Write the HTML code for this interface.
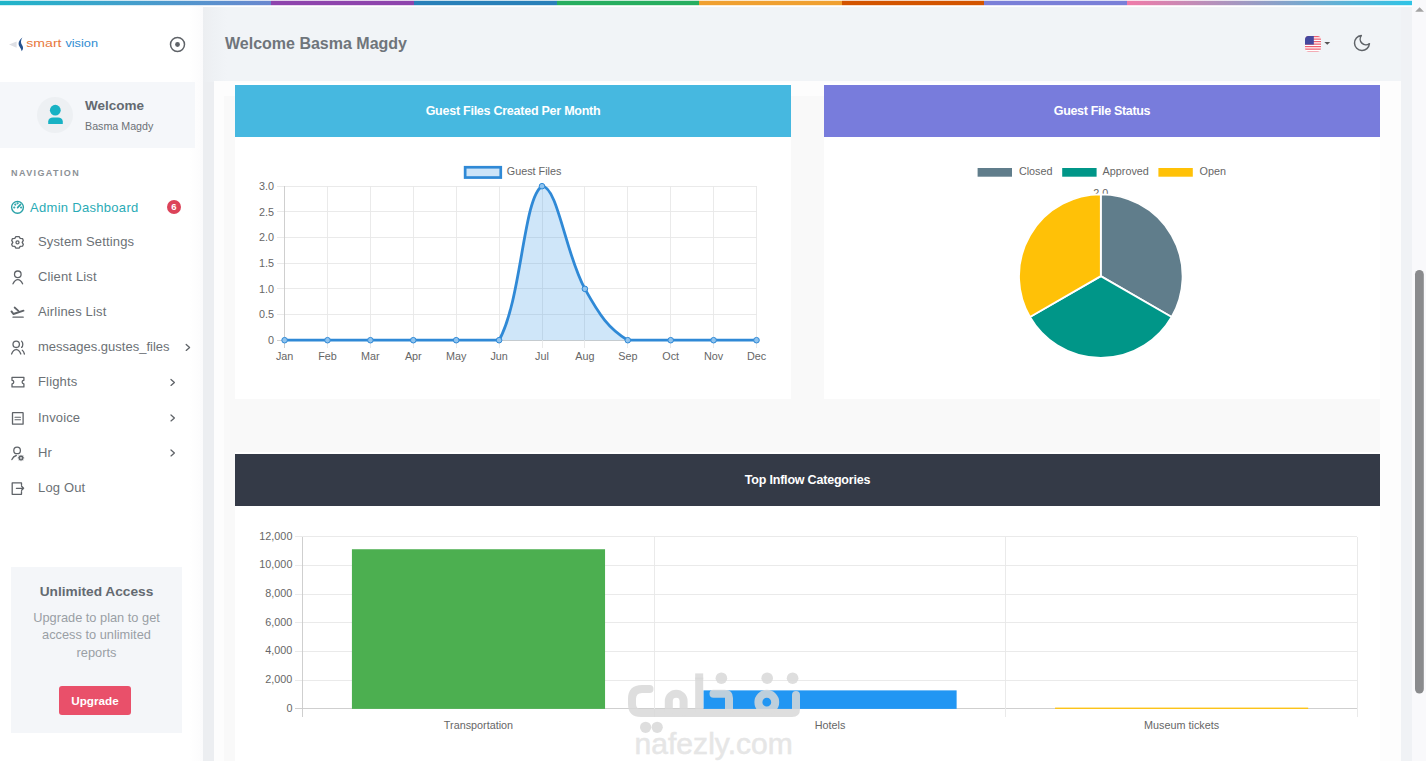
<!DOCTYPE html>
<html><head><meta charset="utf-8">
<style>
*{margin:0;padding:0;box-sizing:border-box}
html,body{width:1426px;height:761px;overflow:hidden;background:#fff;font-family:"Liberation Sans",sans-serif}
.a{position:absolute}
.tb{left:0;width:1412px;background:linear-gradient(90deg,#1fb5c9 0px,#6a87cf 271px,#8e44ad 271px,#8e44ad 414px,#2980b9 414px,#2980b9 557px,#27ae60 557px,#27ae60 699px,#f0a030 699px,#f0a030 842px,#d35400 842px,#d35400 984px,#7a7fd8 984px,#7a7fd8 1127px,#f07aa8 1127px,#2ec4e6 1412px)}
#topbar{top:1px;height:4px}
#tb0{top:0;height:1px;opacity:.25}
#tb5{top:5px;height:1px;opacity:.2}
#mainbg{left:203px;top:7px;width:1209px;height:754px;background:#eceef1}
#sidebar{left:0;top:6px;width:203px;height:755px;background:linear-gradient(90deg,#fff 190px,#fbfbfc 203px)}
#header{left:203px;top:7px;width:1209px;height:75px;background:linear-gradient(90deg,#eceef1 0px,#eef1f4 10px,#f1f4f7 24px)}
#scroll{left:1412px;top:0;width:14px;height:761px;background:#f9f9fb}
#container{left:214px;top:81px;width:1187px;height:680px;background:#fdfdfd}
#inner{left:224px;top:96px;width:1156px;height:665px;background:#f9f9f9}
#rstrip{left:1401px;top:7px;width:11px;height:754px;background:#f0f2f5}
.card{background:#fff}
.chead{color:#fff;font-weight:bold;font-size:12.5px;text-align:center;line-height:52px;height:52px}
.nav{font-size:13px;color:#6c7176;white-space:nowrap;letter-spacing:0.15px}
</style></head><body>
<div id="mainbg" class="a"></div>
<div id="topbar" class="a tb"></div><div id="tb0" class="a tb"></div><div id="tb5" class="a tb"></div>
<div id="sidebar" class="a"></div>
<div id="header" class="a"></div>
<div id="scroll" class="a"></div>
<div id="container" class="a"></div>
<div id="inner" class="a"></div>
<div id="rstrip" class="a"></div>

<!-- sidebar content -->
<svg class="a" style="left:0;top:30px" width="110" height="26" viewBox="0 30 110 26">
 <path d="M16.6 41.4 L9 44.6 L16.6 47.8 Z" fill="#dedfe4"/>
 <path d="M22.4 37.6 C19.1 40.3 17.5 43.4 19.5 46.5 C20.5 48 21.4 49.5 21.7 51.3 C23.7 49 23.3 46.8 21.9 44.8 C20.6 43 20.6 40.4 22.4 37.6 Z" fill="#24528f"/>
 <text x="26.3" y="47.4" font-family="Liberation Sans" font-size="11.6" textLength="35.2" lengthAdjust="spacingAndGlyphs" fill="#e8773c">smart</text>
 <text x="65.4" y="47.4" font-family="Liberation Sans" font-size="11.6" textLength="32.6" lengthAdjust="spacingAndGlyphs" fill="#2e8cd2">vision</text>
</svg>
<svg class="a" style="left:169px;top:36px" width="17" height="17" viewBox="0 0 17 17"><circle cx="8.5" cy="8.5" r="7" fill="none" stroke="#5f6368" stroke-width="1.5"/><circle cx="8.5" cy="8.5" r="2.4" fill="#5f6368"/></svg>

<div class="a" style="left:0;top:82px;width:195px;height:66px;background:#f5f7fa"></div>
<div class="a" style="left:37px;top:97px;width:36px;height:36px;border-radius:50%;background:#edf0f3"></div>
<svg class="a" style="left:40px;top:100px" width="30" height="30" viewBox="40 100 30 30"><circle cx="55.3" cy="110.2" r="5.4" fill="#18b2c4"/><path d="M48.2 124 L48.2 121.5 C48.2 119 50.5 117.6 53 117.6 L58 117.6 C60.5 117.6 62.8 119 62.8 121.5 L62.8 124 Z" fill="#18b2c4"/></svg>
<div class="a" id="t_welcome" style="left:85px;top:98px;font-size:13.5px;font-weight:bold;color:#646a71;white-space:nowrap">Welcome</div>
<div class="a" id="t_basma" style="left:85px;top:120px;font-size:10.7px;color:#6c7176;white-space:nowrap">Basma Magdy</div>

<div class="a" id="t_navlbl" style="left:11px;top:168px;font-size:9px;font-weight:bold;color:#8c9196;letter-spacing:1.4px;white-space:nowrap">NAVIGATION</div>

<div class="a nav" id="t_admin" style="left:30px;top:200px;color:#2aabb6;letter-spacing:0.3px">Admin Dashboard</div>
<div class="a" style="left:167px;top:200px;width:14px;height:14px;border-radius:50%;background:#dc4359;color:#fff;font-size:9.5px;font-weight:bold;text-align:center;line-height:14px">6</div>
<div class="a nav" id="t_sys" style="left:38px;top:234px">System Settings</div>
<div class="a nav" id="t_client" style="left:38px;top:269px">Client List</div>
<div class="a nav" id="t_air" style="left:38px;top:304px">Airlines List</div>
<div class="a nav" id="t_msg" style="left:38px;top:339px;letter-spacing:0">messages.gustes_files</div>
<div class="a nav" id="t_fl" style="left:38px;top:374px">Flights</div>
<div class="a nav" id="t_inv" style="left:38px;top:410px">Invoice</div>
<div class="a nav" id="t_hr" style="left:38px;top:445px">Hr</div>
<div class="a nav" id="t_log" style="left:38px;top:480px">Log Out</div>

<div class="a" style="left:11px;top:567px;width:171px;height:166px;background:#f4f6f9"></div>
<div class="a" id="t_unl" style="left:11px;top:584px;width:171px;text-align:center;font-size:13.7px;font-weight:bold;color:#646a71">Unlimited Access</div>
<div class="a" id="t_upg" style="left:11px;top:608.5px;width:171px;text-align:center;font-size:12.8px;line-height:17.8px;color:#9a9fa5">Upgrade to plan to get<br>access to unlimited<br>reports</div>
<div class="a" style="left:59px;top:686px;width:72px;height:29px;border-radius:3px;background:#e9506a;color:#fff;font-size:11.7px;font-weight:bold;text-align:center;line-height:29px">Upgrade</div>

<!--ICONS_START-->
<svg class="a" style="left:0;top:0" width="203" height="761" viewBox="0 0 203 761" fill="none" stroke="#5f6368" stroke-width="1.3" stroke-linecap="round" stroke-linejoin="round">
 <g stroke="#2aa2a8">
  <circle cx="17.5" cy="207.3" r="5.9" stroke-width="1.35"/>
  <path d="M17.6 207.6 L20.6 204.4" stroke-width="1.6"/>
  <circle cx="14.3" cy="207.5" r="0.45" fill="#2aa2a8"/><circle cx="15.3" cy="204.6" r="0.45" fill="#2aa2a8"/><circle cx="17.6" cy="203.3" r="0.45" fill="#2aa2a8"/><circle cx="21.1" cy="207.5" r="0.45" fill="#2aa2a8"/>
 </g>
 <path d="M15.9 236.6 L19.1 236.6 L20.2 238.4 L22.5 238.6 L23.3 240.4 L22.2 242.4 L23.3 244.4 L22.5 246.2 L20.2 246.4 L19.1 248.2 L15.9 248.2 L14.8 246.4 L12.5 246.2 L11.7 244.4 L12.8 242.4 L11.7 240.4 L12.5 238.6 L14.8 238.4 Z"/>
 <circle cx="17.5" cy="242.4" r="1.5"/>
 <circle cx="17.8" cy="274.3" r="3.3"/>
 <path d="M13 283.8 C14.5 280.5 16 279.6 17.8 279.6 C19.6 279.6 21.1 280.5 22.6 283.8"/>
 <path d="M11.5 311.4 L13.4 314 L23.5 310.7" stroke-width="1.9"/><path d="M14.6 307.5 L18.4 310.9" stroke-width="1.7"/>
 <path d="M13 317.2 L23.2 317.2"/>
 <circle cx="16.2" cy="344.3" r="3.2"/>
 <path d="M11.6 354 C12.8 350.8 14.4 349.7 16.2 349.7 C18 349.7 19.6 350.8 20.8 354"/>
 <path d="M21.6 341.2 C23.2 342.2 23.2 346.4 21.6 347.4"/>
 <path d="M22.3 350.2 C23.4 351 24 352.2 24.4 354"/>
 <path d="M12 377.3 L23.9 377.3 L23.9 380.3 A1.8 1.8 0 0 0 23.9 383.9 L23.9 386.9 L12 386.9 L12 383.9 A1.8 1.8 0 0 0 12 380.3 Z"/>
 <rect x="12.5" y="412.6" width="10.6" height="11.6" rx="0.3"/>
 <path d="M15 417.2 L20.5 417.2 M15 419.8 L20.5 419.8" stroke-width="1.1"/>
 <circle cx="17.1" cy="450.4" r="3.3"/>
 <path d="M11.9 459.6 C12.8 457.4 14.3 456 16.3 455.5"/>
 <circle cx="21" cy="457.9" r="1.5" stroke-width="1.3"/>
 <path d="M21 455.2 L21 455.9 M21 459.9 L21 460.6 M18.3 457.9 L19 457.9 M23 457.9 L23.7 457.9 M19.1 456 L19.6 456.5 M22.4 459.3 L22.9 459.8 M19.1 459.8 L19.6 459.3 M22.4 456.5 L22.9 456" stroke-width="1.1"/>
 <path d="M21.5 485.3 L21.5 482.9 L12.2 482.9 L12.2 494.3 L21.5 494.3 L21.5 491.6"/>
 <path d="M16.4 488.3 L23.6 488.3 M21.6 486.3 L23.6 488.3 L21.6 490.3"/>
 <path d="M186.2 344.4 L189.6 347.4 L186.2 350.4"/>
 <path d="M171 379.4 L174.4 382.4 L171 385.4"/>
 <path d="M171 414.9 L174.4 417.9 L171 420.9"/>
 <path d="M171 449.9 L174.4 452.9 L171 455.9"/>
</svg>
<!--ICONS_END-->
<!-- header -->
<div class="a" id="t_head" style="left:225px;top:35px;font-size:16px;font-weight:bold;color:#6f757b;white-space:nowrap">Welcome Basma Magdy</div>

<!-- cards -->
<div class="a card" style="left:235px;top:83px;width:556px;height:316px"></div>
<div class="a card" style="left:824px;top:83px;width:556px;height:316px"></div>
<div class="a card" style="left:235px;top:452px;width:1145px;height:309px"></div>
<div class="a chead" id="h1" style="left:235px;top:85px;width:556px;letter-spacing:-0.25px;background:#46b8e0">Guest Files Created Per Month</div>
<div class="a chead" id="h2" style="left:824px;top:85px;width:556px;letter-spacing:-0.34px;background:#787cdc">Guest File Status</div>
<div class="a chead" id="h3" style="left:235px;top:454px;width:1145px;letter-spacing:-0.2px;background:#343a47">Top Inflow Categories</div>

<!--CHARTS_START-->
<svg class="a" id="charts" style="left:0;top:0" width="1426" height="761" viewBox="0 0 1426 761">
<g shape-rendering="crispEdges">
<line x1="276.6" y1="186.20" x2="756.5" y2="186.20" stroke="#e8e8e8" stroke-width="0.9"/>
<line x1="276.6" y1="211.87" x2="756.5" y2="211.87" stroke="#e8e8e8" stroke-width="0.9"/>
<line x1="276.6" y1="237.53" x2="756.5" y2="237.53" stroke="#e8e8e8" stroke-width="0.9"/>
<line x1="276.6" y1="263.20" x2="756.5" y2="263.20" stroke="#e8e8e8" stroke-width="0.9"/>
<line x1="276.6" y1="288.87" x2="756.5" y2="288.87" stroke="#e8e8e8" stroke-width="0.9"/>
<line x1="276.6" y1="314.53" x2="756.5" y2="314.53" stroke="#e8e8e8" stroke-width="0.9"/>
<line x1="276.6" y1="340.20" x2="756.5" y2="340.20" stroke="#cacaca" stroke-width="0.9"/>
<line x1="284.60" y1="186.2" x2="284.60" y2="348" stroke="#cacaca" stroke-width="0.9"/>
<line x1="327.50" y1="186.2" x2="327.50" y2="348" stroke="#e8e8e8" stroke-width="0.9"/>
<line x1="370.40" y1="186.2" x2="370.40" y2="348" stroke="#e8e8e8" stroke-width="0.9"/>
<line x1="413.30" y1="186.2" x2="413.30" y2="348" stroke="#e8e8e8" stroke-width="0.9"/>
<line x1="456.20" y1="186.2" x2="456.20" y2="348" stroke="#e8e8e8" stroke-width="0.9"/>
<line x1="499.10" y1="186.2" x2="499.10" y2="348" stroke="#e8e8e8" stroke-width="0.9"/>
<line x1="542.00" y1="186.2" x2="542.00" y2="348" stroke="#e8e8e8" stroke-width="0.9"/>
<line x1="584.90" y1="186.2" x2="584.90" y2="348" stroke="#e8e8e8" stroke-width="0.9"/>
<line x1="627.80" y1="186.2" x2="627.80" y2="348" stroke="#e8e8e8" stroke-width="0.9"/>
<line x1="670.70" y1="186.2" x2="670.70" y2="348" stroke="#e8e8e8" stroke-width="0.9"/>
<line x1="713.60" y1="186.2" x2="713.60" y2="348" stroke="#e8e8e8" stroke-width="0.9"/>
<line x1="756.50" y1="186.2" x2="756.50" y2="348" stroke="#e8e8e8" stroke-width="0.9"/>
</g>
<text x="274" y="190.00" text-anchor="end" font-family="Liberation Sans" fill="#666" font-size="10.8">3.0</text>
<text x="274" y="215.67" text-anchor="end" font-family="Liberation Sans" fill="#666" font-size="10.8">2.5</text>
<text x="274" y="241.33" text-anchor="end" font-family="Liberation Sans" fill="#666" font-size="10.8">2.0</text>
<text x="274" y="267.00" text-anchor="end" font-family="Liberation Sans" fill="#666" font-size="10.8">1.5</text>
<text x="274" y="292.67" text-anchor="end" font-family="Liberation Sans" fill="#666" font-size="10.8">1.0</text>
<text x="274" y="318.33" text-anchor="end" font-family="Liberation Sans" fill="#666" font-size="10.8">0.5</text>
<text x="274" y="344.00" text-anchor="end" font-family="Liberation Sans" fill="#666" font-size="10.8">0</text>
<text x="284.60" y="359.8" text-anchor="middle" font-family="Liberation Sans" fill="#666" font-size="10.8">Jan</text>
<text x="327.50" y="359.8" text-anchor="middle" font-family="Liberation Sans" fill="#666" font-size="10.8">Feb</text>
<text x="370.40" y="359.8" text-anchor="middle" font-family="Liberation Sans" fill="#666" font-size="10.8">Mar</text>
<text x="413.30" y="359.8" text-anchor="middle" font-family="Liberation Sans" fill="#666" font-size="10.8">Apr</text>
<text x="456.20" y="359.8" text-anchor="middle" font-family="Liberation Sans" fill="#666" font-size="10.8">May</text>
<text x="499.10" y="359.8" text-anchor="middle" font-family="Liberation Sans" fill="#666" font-size="10.8">Jun</text>
<text x="542.00" y="359.8" text-anchor="middle" font-family="Liberation Sans" fill="#666" font-size="10.8">Jul</text>
<text x="584.90" y="359.8" text-anchor="middle" font-family="Liberation Sans" fill="#666" font-size="10.8">Aug</text>
<text x="627.80" y="359.8" text-anchor="middle" font-family="Liberation Sans" fill="#666" font-size="10.8">Sep</text>
<text x="670.70" y="359.8" text-anchor="middle" font-family="Liberation Sans" fill="#666" font-size="10.8">Oct</text>
<text x="713.60" y="359.8" text-anchor="middle" font-family="Liberation Sans" fill="#666" font-size="10.8">Nov</text>
<text x="756.50" y="359.8" text-anchor="middle" font-family="Liberation Sans" fill="#666" font-size="10.8">Dec</text>
<path d="M284.60,340.20 C301.76,340.20 310.34,340.20 327.50,340.20 C344.66,340.20 353.24,340.20 370.40,340.20 C387.56,340.20 396.14,340.20 413.30,340.20 C430.46,340.20 439.04,340.20 456.20,340.20 C473.36,340.20 487.39,340.20 499.10,340.20 C521.71,299.62 523.29,197.39 542.00,186.20 C557.61,186.20 565.57,254.17 584.90,288.87 C599.89,315.77 608.74,328.80 627.80,340.20 C643.06,340.20 653.54,340.20 670.70,340.20 C687.86,340.20 696.44,340.20 713.60,340.20 C730.76,340.20 739.34,340.20 756.50,340.20 L756.5,340.2 L284.6,340.2 Z" fill="rgba(54,150,230,0.24)"/>
<path d="M284.60,340.20 C301.76,340.20 310.34,340.20 327.50,340.20 C344.66,340.20 353.24,340.20 370.40,340.20 C387.56,340.20 396.14,340.20 413.30,340.20 C430.46,340.20 439.04,340.20 456.20,340.20 C473.36,340.20 487.39,340.20 499.10,340.20 C521.71,299.62 523.29,197.39 542.00,186.20 C557.61,186.20 565.57,254.17 584.90,288.87 C599.89,315.77 608.74,328.80 627.80,340.20 C643.06,340.20 653.54,340.20 670.70,340.20 C687.86,340.20 696.44,340.20 713.60,340.20 C730.76,340.20 739.34,340.20 756.50,340.20" fill="none" stroke="#2f89d6" stroke-width="2.8" stroke-linejoin="round"/>
<circle cx="284.60" cy="340.20" r="2.8" fill="#8fc3ee" stroke="#2f89d6" stroke-width="1"/>
<circle cx="327.50" cy="340.20" r="2.8" fill="#8fc3ee" stroke="#2f89d6" stroke-width="1"/>
<circle cx="370.40" cy="340.20" r="2.8" fill="#8fc3ee" stroke="#2f89d6" stroke-width="1"/>
<circle cx="413.30" cy="340.20" r="2.8" fill="#8fc3ee" stroke="#2f89d6" stroke-width="1"/>
<circle cx="456.20" cy="340.20" r="2.8" fill="#8fc3ee" stroke="#2f89d6" stroke-width="1"/>
<circle cx="499.10" cy="340.20" r="2.8" fill="#8fc3ee" stroke="#2f89d6" stroke-width="1"/>
<circle cx="542.00" cy="186.20" r="2.8" fill="#8fc3ee" stroke="#2f89d6" stroke-width="1"/>
<circle cx="584.90" cy="288.87" r="2.8" fill="#8fc3ee" stroke="#2f89d6" stroke-width="1"/>
<circle cx="627.80" cy="340.20" r="2.8" fill="#8fc3ee" stroke="#2f89d6" stroke-width="1"/>
<circle cx="670.70" cy="340.20" r="2.8" fill="#8fc3ee" stroke="#2f89d6" stroke-width="1"/>
<circle cx="713.60" cy="340.20" r="2.8" fill="#8fc3ee" stroke="#2f89d6" stroke-width="1"/>
<circle cx="756.50" cy="340.20" r="2.8" fill="#8fc3ee" stroke="#2f89d6" stroke-width="1"/>
<rect x="465.15" y="167.25" width="35.6" height="10.3" fill="#cde4f8" stroke="#2f89d6" stroke-width="2.7"/>
<text x="506.8" y="175" font-family="Liberation Sans" fill="#666" font-size="10.8">Guest Files</text>
<text x="1100.8" y="196.5" text-anchor="middle" font-family="Liberation Sans" fill="#666" font-size="10.8">2.0</text>
<path d="M1100.8,276.1 L1100.80,194.30 A81.8,81.8 0 0 1 1171.64,317.00 Z" fill="#607d8b" stroke="#fff" stroke-width="1.8" stroke-linejoin="bevel"/>
<path d="M1100.8,276.1 L1171.64,317.00 A81.8,81.8 0 0 1 1029.96,317.00 Z" fill="#009688" stroke="#fff" stroke-width="1.8" stroke-linejoin="bevel"/>
<path d="M1100.8,276.1 L1029.96,317.00 A81.8,81.8 0 0 1 1100.80,194.30 Z" fill="#ffc107" stroke="#fff" stroke-width="1.8" stroke-linejoin="bevel"/>
<rect x="976.70" y="167.1" width="36.2" height="10.5" fill="#607d8b" stroke="#fff" stroke-width="1.8"/>
<text x="1018.9" y="174.8" font-family="Liberation Sans" fill="#666" font-size="10.8">Closed</text>
<rect x="1061.30" y="167.1" width="36.2" height="10.5" fill="#009688" stroke="#fff" stroke-width="1.8"/>
<text x="1102.6" y="174.8" font-family="Liberation Sans" fill="#666" font-size="10.8">Approved</text>
<rect x="1157.50" y="167.1" width="36.2" height="10.5" fill="#ffc107" stroke="#fff" stroke-width="1.8"/>
<text x="1199.5" y="174.8" font-family="Liberation Sans" fill="#666" font-size="10.8">Open</text>
<g shape-rendering="crispEdges">
<line x1="295" y1="536.60" x2="1357.4" y2="536.60" stroke="#e8e8e8" stroke-width="0.9"/>
<line x1="295" y1="565.32" x2="1357.4" y2="565.32" stroke="#e8e8e8" stroke-width="0.9"/>
<line x1="295" y1="594.03" x2="1357.4" y2="594.03" stroke="#e8e8e8" stroke-width="0.9"/>
<line x1="295" y1="622.75" x2="1357.4" y2="622.75" stroke="#e8e8e8" stroke-width="0.9"/>
<line x1="295" y1="651.47" x2="1357.4" y2="651.47" stroke="#e8e8e8" stroke-width="0.9"/>
<line x1="295" y1="680.18" x2="1357.4" y2="680.18" stroke="#e8e8e8" stroke-width="0.9"/>
<line x1="295" y1="708.90" x2="1357.4" y2="708.90" stroke="#cacaca" stroke-width="0.9"/>
<line x1="302.70" y1="536.6" x2="302.70" y2="716.5" stroke="#cacaca" stroke-width="0.9"/>
<line x1="654.27" y1="536.6" x2="654.27" y2="716.5" stroke="#e8e8e8" stroke-width="0.9"/>
<line x1="1005.83" y1="536.6" x2="1005.83" y2="716.5" stroke="#e8e8e8" stroke-width="0.9"/>
<line x1="1357.40" y1="536.6" x2="1357.40" y2="716.5" stroke="#e8e8e8" stroke-width="0.9"/>
</g>
<text x="292.4" y="539.60" text-anchor="end" font-family="Liberation Sans" fill="#666" font-size="10.8">12,000</text>
<text x="292.4" y="568.32" text-anchor="end" font-family="Liberation Sans" fill="#666" font-size="10.8">10,000</text>
<text x="292.4" y="597.03" text-anchor="end" font-family="Liberation Sans" fill="#666" font-size="10.8">8,000</text>
<text x="292.4" y="625.75" text-anchor="end" font-family="Liberation Sans" fill="#666" font-size="10.8">6,000</text>
<text x="292.4" y="654.47" text-anchor="end" font-family="Liberation Sans" fill="#666" font-size="10.8">4,000</text>
<text x="292.4" y="683.18" text-anchor="end" font-family="Liberation Sans" fill="#666" font-size="10.8">2,000</text>
<text x="292.4" y="711.90" text-anchor="end" font-family="Liberation Sans" fill="#666" font-size="10.8">0</text>
<rect x="351.92" y="549.24" width="253.13" height="159.66" fill="#4caf50"/>
<text x="478.48" y="729" text-anchor="middle" font-family="Liberation Sans" fill="#666" font-size="10.8">Transportation</text>
<rect x="703.49" y="690.38" width="253.13" height="18.52" fill="#2196f3"/>
<text x="830.05" y="729" text-anchor="middle" font-family="Liberation Sans" fill="#666" font-size="10.8">Hotels</text>
<rect x="1055.05" y="707.61" width="253.13" height="1.29" fill="#ffc107"/>
<text x="1181.62" y="729" text-anchor="middle" font-family="Liberation Sans" fill="#666" font-size="10.8">Museum tickets</text>
</svg>
<!--CHARTS_END-->
<!--EXTRA_START-->
<svg class="a" style="left:1300px;top:30px" width="80" height="26" viewBox="1300 30 80 26">
 <defs><clipPath id="fc"><rect x="1305" y="36" width="16" height="15.6" rx="3.5"/></clipPath></defs>
 <g clip-path="url(#fc)">
  <rect x="1305" y="36" width="16" height="16" fill="#fff"/>
  <g fill="#ee5f71"><rect x="1305" y="36" width="16" height="1.25"/><rect x="1305" y="38.5" width="16" height="1.25"/><rect x="1305" y="41" width="16" height="1.25"/><rect x="1305" y="43.5" width="16" height="1.25"/><rect x="1305" y="46" width="16" height="1.25"/><rect x="1305" y="48.5" width="16" height="1.25"/><rect x="1305" y="51" width="16" height="1.25"/></g>
  <rect x="1305" y="36" width="8.8" height="8.6" fill="#44489e"/>
 </g>
 <path d="M1324.3 41.9 L1330.2 41.9 L1327.25 44.8 Z" fill="#555"/>
 <g transform="translate(1352.0 33.1) scale(0.83)"><path d="M21 12.79A9 9 0 1 1 11.21 3 7 7 0 0 0 21 12.79z" fill="none" stroke="#5f6368" stroke-width="1.8" stroke-linejoin="round"/></g>
</svg>
<svg class="a" style="left:1412px;top:0" width="14" height="761" viewBox="1412 0 14 761">
 <path d="M1415.2 11.8 L1419.6 7.3 L1424 11.8 Z" fill="#a3a3a3"/>
 <rect x="1415" y="270" width="8.8" height="423.5" rx="4.4" fill="#8a8b8d"/>
</svg>
<svg class="a" style="left:600px;top:660px" width="220" height="101" viewBox="600 660 220 101">
 <g opacity="0.85" fill="none" stroke="#d9d9d9" stroke-width="8" stroke-linecap="round" stroke-linejoin="round">
  <path d="M649.5 689 L642 689 Q632 689 632 699 L632 704 Q632 713 641 713 L792 713 Q796 713 796 709 L796 695"/>
  <path d="M668.8 712 L668.8 701.1 A7.4 7.4 0 0 1 683.6 701.1 L683.6 712"/>
  <path d="M699.2 677.5 L699.2 712" stroke-linecap="butt"/>
  <path d="M713.5 693.7 L724.5 693.7 Q729 693.7 729 698 L729 710"/>
  <circle cx="766.8" cy="702.2" r="8.4"/>
 </g>
 <g opacity="0.85" fill="#d9d9d9">
  <rect x="695.2" y="673.4" width="8" height="6"/>
  <circle cx="721.4" cy="678.2" r="5.8"/><circle cx="767.2" cy="678.2" r="5.8"/><circle cx="792.6" cy="678.2" r="5.8"/>
  <circle cx="645.6" cy="727.3" r="5.6"/><circle cx="657.2" cy="727.3" r="5.6"/>
  <text x="634.5" y="754" font-family="Liberation Sans" font-size="30" letter-spacing="0.05" fill="#e2e2e2" stroke="#e2e2e2" stroke-width="0.5">nafezly.com</text>
 </g>
</svg>
<!--EXTRA_END-->
</body></html>
